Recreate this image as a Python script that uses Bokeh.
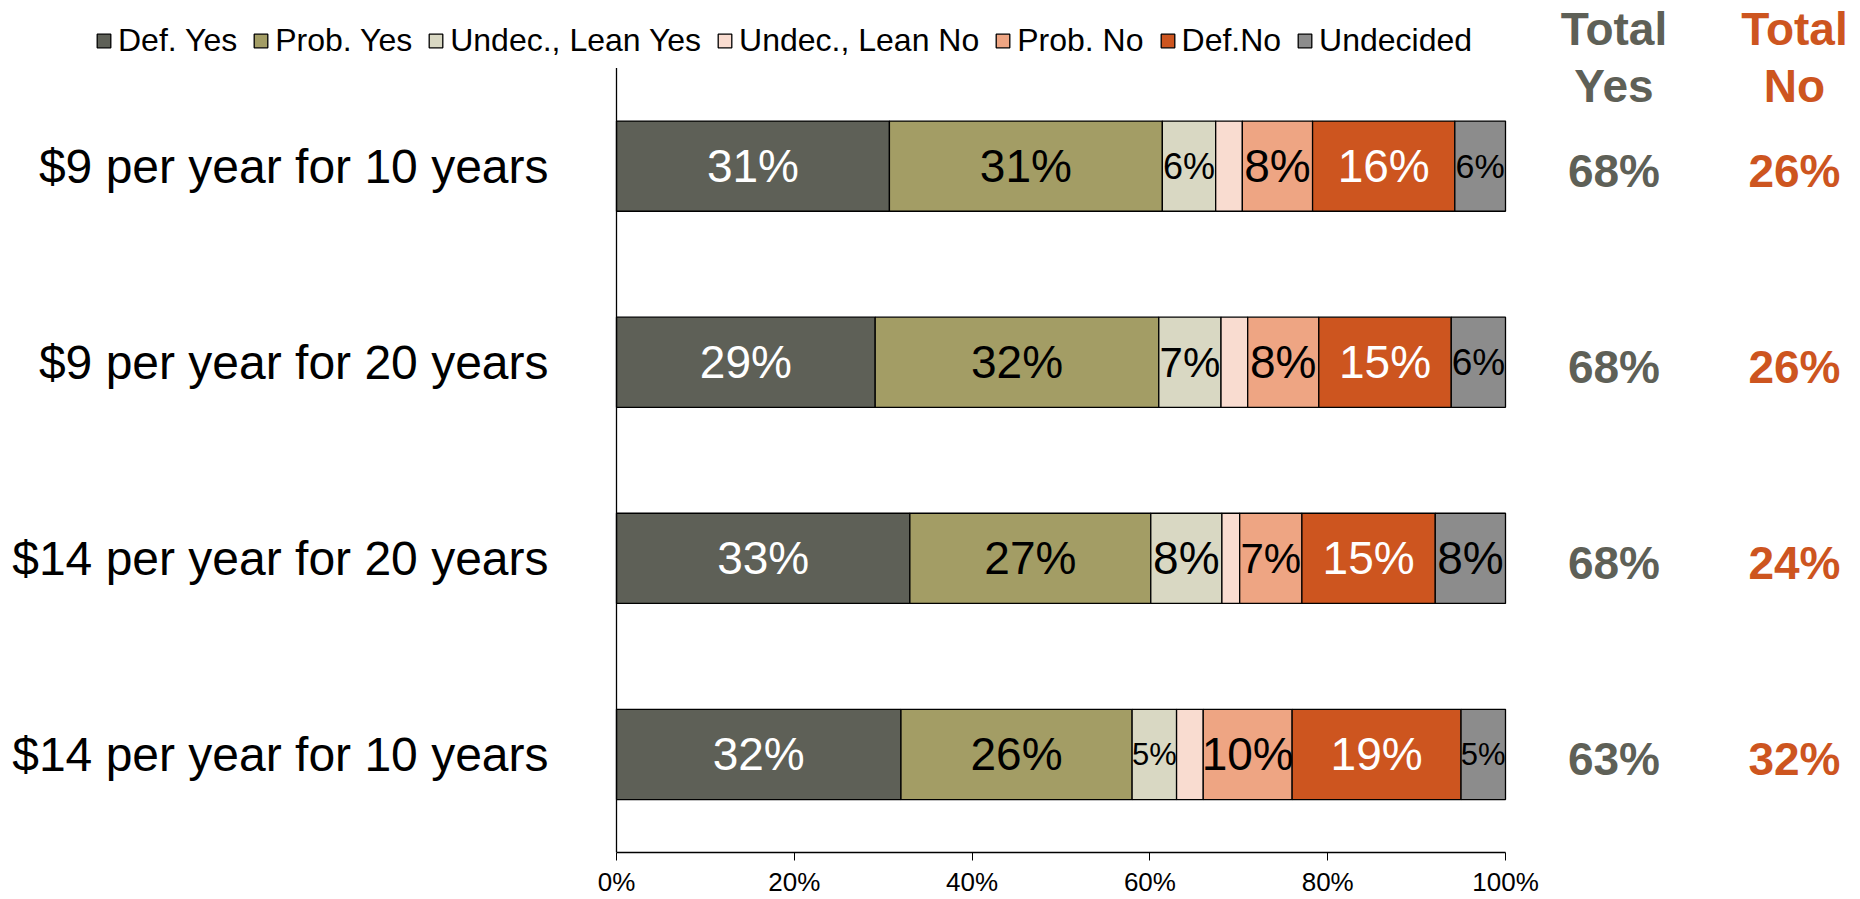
from bokeh.plotting import figure
from bokeh.models import (ColumnDataSource, Range1d, FixedTicker, PrintfTickFormatter,
                          Legend, LegendItem)
from bokeh.core.properties import value
from bokeh.embed import file_html
from bokeh.resources import INLINE

# ---------------- data ----------------
categories = ["$9 per year for 10 years", "$9 per year for 20 years",
              "$14 per year for 20 years", "$14 per year for 10 years"]
series = ["Def. Yes", "Prob. Yes", "Undec., Lean Yes", "Undec., Lean No",
          "Prob. No", "Def.No", "Undecided"]
def_yes = [30.7, 29.1, 33.0, 32.0]
prob_yes = [30.7, 31.9, 27.1, 26.0]
lean_yes = [6.0, 7.0, 8.0, 5.0]
lean_no = [3.0, 3.0, 2.0, 3.0]
prob_no = [7.9, 8.0, 7.0, 10.0]
def_no = [16.0, 14.9, 15.0, 19.0]
undecided = [5.7, 6.1, 7.9, 5.0]
total_yes = [68, 68, 68, 63]
total_no = [26, 26, 24, 32]
x_ticks = [0, 20, 40, 60, 80, 100]

# ---------------- styles ----------------
colors = ["#5E6057", "#A39D65", "#D9D8C3", "#F9DCD0", "#EEA583", "#CD551F", "#8C8C8C"]
label_colors = ["white", "black", "black", None, "black", "white", "black"]
YES_COLOR = "#5E6057"
NO_COLOR = "#CD551F"
FONT = "Liberation Sans"

values = [def_yes, prob_yes, lean_yes, lean_no, prob_no, def_no, undecided]
n = len(categories)
positions = [n - 1 - k for k in range(n)]  # first category on top

W, H = 1860, 899
BOTTOM = 47
PX = 8.89          # pixels per percent
X0_PX = 616        # pixel position of 0%
X_START = -X0_PX / PX
X_END = (W - X0_PX) / PX
frame_h = H - BOTTOM
TOP_PX = 67.6
row_px = (frame_h - TOP_PX) / n
Y_END = (n - 0.5) + TOP_PX / row_px

p = figure(width=W, height=H, output_backend="svg", toolbar_location=None,
           x_range=Range1d(X_START, X_END), y_range=Range1d(-0.5, Y_END),
           y_axis_location=None,
           min_border_left=0, min_border_right=0, min_border_top=0,
           min_border_bottom=BOTTOM)
p.outline_line_color = None
p.xgrid.visible = False
p.ygrid.visible = False
p.background_fill_color = "white"
p.border_fill_color = "white"

BAR_H = 0.46
cum = [0.0] * n
legend_items = []
for i, (name, vals) in enumerate(zip(series, values)):
    left = cum[:]
    right = [l + v for l, v in zip(left, vals)]
    cum = right
    src = ColumnDataSource(dict(y=positions, left=left, right=right))
    r = p.hbar(y="y", left="left", right="right", height=BAR_H, source=src,
               fill_color=colors[i], line_color="black", line_width=1.3)
    legend_items.append(LegendItem(label=name, renderers=[r]))
    if label_colors[i] is not None:
        mids = [(l + rr) / 2 for l, rr in zip(left, right)]
        sizes = ["%dpx" % round(min(46, 0.62 * v * PX + 3)) for v in vals]
        texts = ["%d%%" % round(v) for v in vals]
        lsrc = ColumnDataSource(dict(x=mids, y=positions, text=texts, size=sizes))
        p.text(x="x", y="y", text="text", source=lsrc, text_font=value(FONT),
               text_font_size="size", text_color=label_colors[i],
               text_align="center", text_baseline="middle")

# vertical category axis line and labels
p.segment(x0=[0], y0=[-0.5], x1=[0], y1=[n - 0.5], line_color="black", line_width=1.3)
csrc = ColumnDataSource(dict(x=[-68 / PX] * n, y=positions, text=categories))
p.text(x="x", y="y", text="text", source=csrc, text_font=value(FONT),
       text_font_size="48px", text_color="black", text_align="right",
       text_baseline="middle")

# totals columns
X_YES, X_NO = 112.2, 132.5
ty = ColumnDataSource(dict(x=[X_YES] * n, y=positions, text=["%d%%" % v for v in total_yes]))
tn = ColumnDataSource(dict(x=[X_NO] * n, y=positions, text=["%d%%" % v for v in total_no]))
for src, col in ((ty, YES_COLOR), (tn, NO_COLOR)):
    p.text(x="x", y="y", text="text", source=src, text_font=value(FONT),
           text_font_size="46px", text_font_style="bold", text_color=col,
           text_align="center", text_baseline="middle", y_offset=5)

HEAD_Y = Y_END - 57 / row_px
for x, txt, col in ((X_YES, "Total\nYes", YES_COLOR), (X_NO, "Total\nNo", NO_COLOR)):
    p.text(x=[x], y=[HEAD_Y], text=[txt], text_font=value(FONT),
           text_font_size="46px", text_font_style="bold", text_color=col,
           text_align="center", text_baseline="middle", text_line_height=1.08)

# x axis
xa = p.xaxis[0]
xa.ticker = FixedTicker(ticks=x_ticks)
xa.formatter = PrintfTickFormatter(format="%d%%")
xa.bounds = (0, 100)
xa.major_tick_out = 8
xa.major_tick_in = 0
xa.minor_tick_line_color = None
xa.major_tick_line_color = "black"
xa.axis_line_color = "black"
xa.axis_line_width = 1.3
xa.major_label_text_font = FONT
xa.major_label_text_font_size = "26px"
xa.major_label_text_color = "black"
xa.major_label_standoff = 6

legend = Legend(items=legend_items, orientation="horizontal",
                location=(95, frame_h - 58.5),
                label_text_font=FONT, label_text_font_size="32px",
                label_text_color="black",
                glyph_width=17, glyph_height=17, label_standoff=6, spacing=15,
                padding=0, margin=0, border_line_color=None,
                background_fill_alpha=0)
p.add_layout(legend)

open("out.html", "w").write(file_html(p, INLINE))
